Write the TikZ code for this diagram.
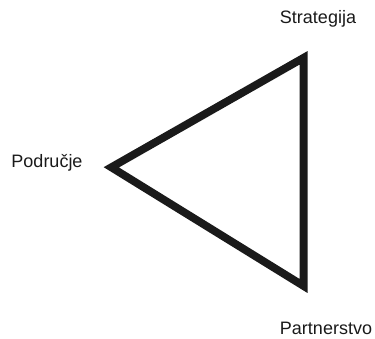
\documentclass[tikz,border=0pt]{standalone}
\usepackage{fontspec}
\setmainfont{Liberation Sans}
\usepackage{tikz}
\usetikzlibrary{positioning}
\definecolor{tinta}{HTML}{1A1A1A}
\tikzset{
  etiqueta/.style={text=tinta, font=\fontsize{18}{20}\selectfont, inner sep=0pt},
  trokut/.style={draw=tinta, line width=7.8pt, miter limit=10, line join=miter},
}

\begin{document}
\begin{tikzpicture}[x=1pt, y=-1pt]
  \useasboundingbox (0,0) rectangle (375,338);
  \coordinate (vrh) at (303.6,57.8);
  \coordinate (lijevo) at (111.3,167.3);
  \coordinate (dno) at (303.6,286);
  \draw[trokut] (vrh) -- (lijevo) -- (dno) -- cycle;
  \node[etiqueta] (S) at (318,19) {Strategija};
  \node[etiqueta] (P) at (47,163) {Područje};
  \node[etiqueta] (T) at (326,328) {Partnerstvo};
\end{tikzpicture}
\end{document}
